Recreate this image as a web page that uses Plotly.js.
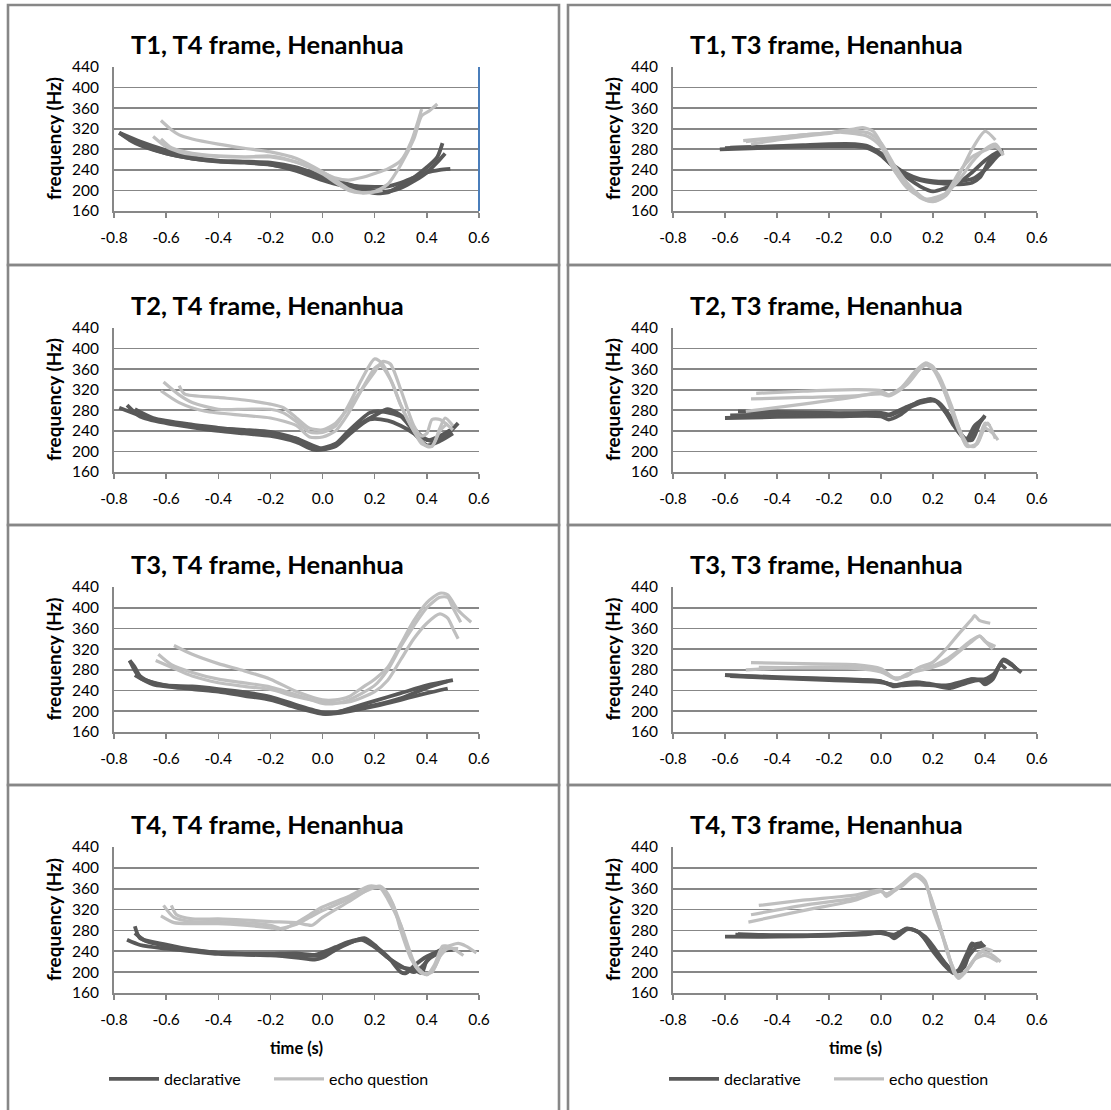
<!DOCTYPE html>
<html>
<head>
<meta charset="utf-8">
<script src="https://cdn.plot.ly/plotly-3.0.1.min.js"></script>
<style>
  html, body { margin: 0; padding: 0; background: #ffffff; }
  #chart { width: 1111px; height: 1110px; }
</style>
</head>
<body>
<div id="chart"></div>
<script>
// ---------- shared axis ticks / labels ----------
const X_TICK_VALUES = [-0.8, -0.6, -0.4, -0.2, 0.0, 0.2, 0.4, 0.6];
const X_TICK_TEXT = ['-0.8', '-0.6', '-0.4', '-0.2', '0.0', '0.2', '0.4', '0.6'];
const Y_TICK_VALUES = [160, 200, 240, 280, 320, 360, 400, 440];
const PANEL_TITLES = [
  'T1, T4 frame, Henanhua', 'T1, T3 frame, Henanhua',
  'T2, T4 frame, Henanhua', 'T2, T3 frame, Henanhua',
  'T3, T4 frame, Henanhua', 'T3, T3 frame, Henanhua',
  'T4, T4 frame, Henanhua', 'T4, T3 frame, Henanhua'
];
const SERIES_NAMES = ['declarative', 'echo question'];
const Y_TITLE = 'frequency (Hz)';
const X_TITLE = 'time (s)';

// ---------- Panel 1: T1, T4 frame ----------
const T1T4_DECL_A_TIME = [-0.78,-0.74,-0.7,-0.6,-0.5,-0.4,-0.3,-0.2,-0.1,0.0,0.1,0.2,0.25,0.3,0.35,0.4,0.44,0.47];
const T1T4_DECL_A_FREQ = [312,298,288,272,262,257,256,254,245,228,212,200,198,205,218,235,255,272];
const T1T4_DECL_B_TIME = [-0.78,-0.7,-0.6,-0.5,-0.4,-0.3,-0.2,-0.1,0.0,0.1,0.15,0.2,0.25,0.3,0.35,0.4,0.44,0.46];
const T1T4_DECL_B_FREQ = [312,295,278,265,258,255,250,238,220,206,200,195,196,210,225,245,265,292];
const T1T4_DECL_C_TIME = [-0.78,-0.7,-0.6,-0.5,-0.4,-0.3,-0.2,-0.1,0.0,0.1,0.2,0.25,0.3,0.35,0.4,0.45,0.49];
const T1T4_DECL_C_FREQ = [312,290,272,262,256,254,250,240,222,210,207,208,215,225,235,240,242];
const T1T4_ECHO_A_TIME = [-0.62,-0.58,-0.55,-0.5,-0.4,-0.3,-0.2,-0.1,0.0,0.05,0.1,0.15,0.2,0.25,0.3,0.35,0.38,0.41,0.44];
const T1T4_ECHO_A_FREQ = [336,318,308,300,290,282,275,262,236,220,203,196,198,212,250,300,345,355,368];
const T1T4_ECHO_B_TIME = [-0.65,-0.6,-0.55,-0.5,-0.4,-0.3,-0.2,-0.1,0.0,0.05,0.1,0.15,0.2,0.23];
const T1T4_ECHO_B_FREQ = [305,285,275,270,266,265,267,255,232,215,200,195,197,200];
const T1T4_ECHO_C_TIME = [-0.62,-0.58,-0.5,-0.4,-0.3,-0.2,-0.1,0.0,0.05,0.1,0.15,0.2,0.25,0.3,0.34,0.38];
const T1T4_ECHO_C_FREQ = [300,283,272,267,265,265,255,235,224,220,225,233,242,258,295,358];

// ---------- Panel 2: T1, T3 frame ----------
const T1T3_DECL_A_TIME = [-0.62,-0.5,-0.4,-0.3,-0.2,-0.1,-0.05,0.0,0.05,0.1,0.15,0.2,0.25,0.3,0.35,0.4,0.45,0.47];
const T1T3_DECL_A_FREQ = [280,282,284,286,287,288,285,272,248,232,222,218,217,218,222,240,268,275];
const T1T3_DECL_B_TIME = [-0.6,-0.5,-0.4,-0.3,-0.2,-0.1,-0.05,0.0,0.05,0.1,0.15,0.2,0.25,0.3,0.35,0.4,0.45,0.47];
const T1T3_DECL_B_FREQ = [282,284,286,288,290,290,286,270,245,225,208,198,205,215,235,258,275,278];
const T1T3_DECL_C_TIME = [-0.58,-0.5,-0.4,-0.3,-0.2,-0.1,-0.05,0.0,0.05,0.1,0.15,0.2,0.25,0.3,0.35,0.38,0.42,0.45];
const T1T3_DECL_C_FREQ = [283,284,285,285,286,286,282,268,245,228,220,215,213,212,215,225,260,272];
const T1T3_ECHO_A_TIME = [-0.53,-0.4,-0.3,-0.2,-0.1,-0.07,-0.03,0.0,0.05,0.1,0.15,0.2,0.25,0.3,0.35,0.4,0.44];
const T1T3_ECHO_A_FREQ = [297,303,308,312,320,322,315,292,240,210,186,178,190,230,280,315,298];
const T1T3_ECHO_B_TIME = [-0.5,-0.4,-0.3,-0.2,-0.15,-0.05,0.0,0.05,0.1,0.15,0.18,0.22,0.3,0.35,0.4,0.44,0.47];
const T1T3_ECHO_B_FREQ = [290,298,305,311,315,312,292,250,215,190,180,182,220,255,280,290,268];
const T1T3_ECHO_C_TIME = [-0.52,-0.4,-0.3,-0.2,-0.15,-0.05,0.0,0.05,0.1,0.15,0.18,0.25,0.3,0.35,0.4,0.44,0.47];
const T1T3_ECHO_C_FREQ = [295,302,308,312,313,305,285,240,205,188,183,195,235,265,278,285,270];

// ---------- Panel 3: T2, T4 frame ----------
const T2T4_DECL_A_TIME = [-0.78,-0.7,-0.6,-0.5,-0.4,-0.3,-0.2,-0.1,0.0,0.05,0.1,0.15,0.2,0.25,0.3,0.35,0.4,0.45,0.5];
const T2T4_DECL_A_FREQ = [285,270,257,250,245,242,238,225,205,212,235,255,270,282,270,245,222,230,245];
const T2T4_DECL_B_TIME = [-0.75,-0.7,-0.6,-0.5,-0.4,-0.3,-0.2,-0.1,-0.03,0.05,0.1,0.18,0.25,0.3,0.35,0.4,0.45,0.5];
const T2T4_DECL_B_FREQ = [290,268,255,247,240,235,230,218,203,210,232,262,260,250,235,212,220,235];
const T2T4_DECL_C_TIME = [-0.72,-0.65,-0.5,-0.4,-0.3,-0.2,-0.1,-0.03,0.05,0.1,0.18,0.22,0.3,0.35,0.42,0.48,0.52];
const T2T4_DECL_C_FREQ = [282,265,252,246,240,233,225,205,215,240,275,278,268,240,220,235,255];
const T2T4_ECHO_A_TIME = [-0.61,-0.55,-0.5,-0.4,-0.3,-0.2,-0.15,-0.1,-0.05,0.0,0.05,0.1,0.15,0.2,0.23,0.27,0.3,0.35,0.4,0.42,0.45,0.47,0.5];
const T2T4_ECHO_A_FREQ = [335,310,295,282,282,282,275,258,238,237,250,290,340,380,370,330,290,240,210,210,245,265,250];
const T2T4_ECHO_B_TIME = [-0.55,-0.53,-0.4,-0.3,-0.2,-0.15,-0.1,-0.05,0.0,0.05,0.1,0.15,0.2,0.23,0.26,0.3,0.35,0.38,0.4,0.42,0.45,0.5];
const T2T4_ECHO_B_FREQ = [328,312,305,300,292,285,265,245,242,255,285,320,355,375,370,320,250,230,235,262,262,242];
const T2T4_ECHO_C_TIME = [-0.62,-0.55,-0.45,-0.3,-0.2,-0.1,-0.05,0.0,0.05,0.1,0.15,0.2,0.22,0.26,0.3,0.35,0.38,0.42,0.45,0.48];
const T2T4_ECHO_C_FREQ = [318,295,278,270,265,250,228,228,240,275,320,362,368,340,290,240,215,210,240,255];

// ---------- Panel 4: T2, T3 frame ----------
const T2T3_DECL_A_TIME = [-0.6,-0.4,-0.2,0.0,0.03,0.07,0.12,0.18,0.21,0.25,0.3,0.33,0.36,0.38,0.4];
const T2T3_DECL_A_FREQ = [265,267,268,268,262,270,288,298,298,275,240,220,240,258,268];
const T2T3_DECL_B_TIME = [-0.58,-0.4,-0.2,0.0,0.03,0.1,0.15,0.19,0.22,0.27,0.3,0.33,0.36,0.39];
const T2T3_DECL_B_FREQ = [270,272,273,275,272,287,296,302,296,265,238,225,250,262];
const T2T3_DECL_C_TIME = [-0.55,-0.4,-0.2,0.0,0.03,0.1,0.15,0.2,0.23,0.28,0.32,0.35,0.38,0.4];
const T2T3_DECL_C_FREQ = [278,277,275,273,270,285,298,300,290,250,225,222,255,270];
const T2T3_ECHO_A_TIME = [-0.48,-0.3,-0.1,0.0,0.03,0.08,0.13,0.17,0.2,0.23,0.27,0.3,0.33,0.36,0.38,0.4,0.42];
const T2T3_ECHO_A_FREQ = [313,317,320,318,310,325,355,372,365,335,280,240,212,210,230,255,250];
const T2T3_ECHO_B_TIME = [-0.5,-0.3,-0.1,0.0,0.03,0.08,0.13,0.17,0.2,0.25,0.3,0.33,0.37,0.4,0.43,0.45];
const T2T3_ECHO_B_FREQ = [302,305,308,312,308,322,350,368,360,310,245,210,215,245,235,222];
const T2T3_ECHO_C_TIME = [-0.52,-0.3,-0.1,0.0,0.03,0.1,0.15,0.18,0.22,0.27,0.3,0.34,0.37,0.39,0.41,0.44];
const T2T3_ECHO_C_FREQ = [278,292,306,315,310,330,360,370,350,290,245,210,215,240,255,225];

// ---------- Panel 5: T3, T4 frame ----------
const T3T4_DECL_A_TIME = [-0.74,-0.72,-0.7,-0.65,-0.6,-0.5,-0.4,-0.3,-0.2,-0.1,0.0,0.05,0.1,0.2,0.3,0.4,0.48];
const T3T4_DECL_A_FREQ = [298,285,268,255,250,248,243,237,228,212,198,198,203,212,225,245,258];
const T3T4_DECL_B_TIME = [-0.74,-0.7,-0.6,-0.5,-0.4,-0.3,-0.2,-0.1,0.0,0.05,0.1,0.2,0.3,0.4,0.5];
const T3T4_DECL_B_FREQ = [298,265,250,245,240,233,225,210,196,197,205,220,235,250,260];
const T3T4_DECL_C_TIME = [-0.72,-0.65,-0.5,-0.4,-0.3,-0.2,-0.1,0.0,0.05,0.1,0.2,0.3,0.4,0.48];
const T3T4_DECL_C_FREQ = [270,252,243,238,230,222,207,195,196,200,210,222,235,244];
const T3T4_ECHO_A_TIME = [-0.57,-0.5,-0.4,-0.3,-0.2,-0.1,0.0,0.05,0.1,0.15,0.2,0.25,0.3,0.35,0.4,0.45,0.48,0.52,0.57];
const T3T4_ECHO_A_FREQ = [327,310,292,278,262,238,222,222,228,245,262,285,330,375,410,428,425,395,372];
const T3T4_ECHO_B_TIME = [-0.63,-0.58,-0.5,-0.4,-0.3,-0.2,-0.1,0.0,0.05,0.1,0.2,0.25,0.3,0.35,0.4,0.45,0.48,0.5,0.53];
const T3T4_ECHO_B_FREQ = [310,290,275,262,255,247,232,215,215,222,250,280,325,365,400,420,420,400,372];
const T3T4_ECHO_C_TIME = [-0.64,-0.58,-0.5,-0.4,-0.3,-0.2,-0.1,0.0,0.1,0.2,0.25,0.3,0.35,0.4,0.45,0.48,0.5,0.52];
const T3T4_ECHO_C_FREQ = [298,285,268,255,248,242,228,218,218,238,260,300,340,370,388,380,360,340];

// ---------- Panel 6: T3, T3 frame ----------
const T3T3_DECL_A_TIME = [-0.6,-0.4,-0.2,-0.05,0.0,0.05,0.1,0.15,0.2,0.25,0.3,0.35,0.4,0.43,0.47,0.5,0.54];
const T3T3_DECL_A_FREQ = [270,266,263,260,258,250,255,256,252,248,252,262,258,268,298,290,275];
const T3T3_DECL_B_TIME = [-0.6,-0.4,-0.2,0.0,0.05,0.1,0.2,0.27,0.33,0.38,0.4,0.43,0.46,0.48];
const T3T3_DECL_B_FREQ = [270,265,262,258,248,253,250,245,255,260,252,262,290,282];
const T3T3_DECL_C_TIME = [-0.58,-0.4,-0.2,0.0,0.06,0.15,0.25,0.35,0.4,0.44,0.47,0.5,0.52];
const T3T3_DECL_C_FREQ = [268,264,260,256,250,252,250,262,262,275,300,292,282];
const T3T3_ECHO_A_TIME = [-0.5,-0.3,-0.1,0.0,0.05,0.1,0.15,0.2,0.25,0.3,0.35,0.36,0.38,0.42];
const T3T3_ECHO_A_FREQ = [294,292,290,282,265,268,285,295,320,350,378,385,375,370];
const T3T3_ECHO_B_TIME = [-0.52,-0.3,-0.1,0.0,0.06,0.1,0.15,0.2,0.25,0.3,0.35,0.38,0.4,0.44];
const T3T3_ECHO_B_FREQ = [280,285,285,278,262,270,285,288,300,318,338,345,335,325];
const T3T3_ECHO_C_TIME = [-0.47,-0.3,-0.1,0.0,0.06,0.1,0.2,0.25,0.3,0.35,0.38,0.41,0.43];
const T3T3_ECHO_C_FREQ = [285,284,283,276,262,272,285,295,315,335,345,330,320];

// ---------- Panel 7: T4, T4 frame ----------
const T4T4_DECL_A_TIME = [-0.72,-0.7,-0.6,-0.5,-0.4,-0.3,-0.2,-0.1,-0.03,0.0,0.05,0.1,0.15,0.2,0.25,0.3,0.32,0.35,0.4,0.45,0.5];
const T4T4_DECL_A_FREQ = [288,265,253,243,237,235,235,236,233,238,248,258,263,250,230,200,198,212,230,240,243];
const T4T4_DECL_B_TIME = [-0.75,-0.7,-0.6,-0.5,-0.4,-0.2,-0.1,-0.03,0.0,0.05,0.1,0.16,0.2,0.25,0.3,0.35,0.38,0.42,0.45,0.48];
const T4T4_DECL_B_FREQ = [262,252,245,240,235,232,228,224,228,243,255,265,252,228,212,200,210,232,242,245];
const T4T4_DECL_C_TIME = [-0.72,-0.68,-0.6,-0.5,-0.4,-0.2,-0.1,0.0,0.05,0.1,0.15,0.2,0.25,0.3,0.35,0.38,0.4,0.45];
const T4T4_DECL_C_FREQ = [275,260,250,242,237,233,232,232,245,256,262,248,228,210,205,198,222,238];
const T4T4_ECHO_A_TIME = [-0.61,-0.57,-0.5,-0.4,-0.3,-0.2,-0.15,-0.1,-0.05,0.0,0.1,0.18,0.22,0.25,0.3,0.35,0.38,0.4,0.43,0.47,0.5,0.54];
const T4T4_ECHO_A_FREQ = [328,305,297,297,295,290,283,295,310,325,345,365,362,340,290,220,200,195,210,248,245,232];
const T4T4_ECHO_B_TIME = [-0.58,-0.56,-0.5,-0.4,-0.3,-0.2,-0.1,-0.04,0.0,0.1,0.18,0.22,0.25,0.3,0.33,0.36,0.4,0.43,0.46,0.48,0.52,0.55,0.59];
const T4T4_ECHO_B_FREQ = [328,310,302,302,300,297,295,290,305,335,360,365,350,290,240,210,195,215,250,250,255,250,237];
const T4T4_ECHO_C_TIME = [-0.62,-0.57,-0.5,-0.4,-0.3,-0.2,-0.17,-0.1,-0.05,0.0,0.1,0.2,0.23,0.27,0.3,0.34,0.38,0.42,0.45,0.48,0.52];
const T4T4_ECHO_C_FREQ = [308,295,293,293,290,285,283,292,305,318,340,362,360,330,280,225,198,200,230,245,245];

// ---------- Panel 8: T4, T3 frame ----------
const T4T3_DECL_A_TIME = [-0.6,-0.4,-0.2,-0.05,0.0,0.03,0.05,0.08,0.1,0.13,0.17,0.2,0.25,0.28,0.3,0.33,0.35,0.37,0.39];
const T4T3_DECL_A_FREQ = [268,268,270,273,277,272,265,275,282,280,268,250,215,200,205,235,255,248,250];
const T4T3_DECL_B_TIME = [-0.56,-0.4,-0.2,0.0,0.05,0.1,0.15,0.2,0.25,0.28,0.32,0.35,0.38,0.4];
const T4T3_DECL_B_FREQ = [272,270,270,275,270,284,275,240,210,198,210,250,255,248];
const T4T3_DECL_C_TIME = [-0.55,-0.4,-0.2,0.0,0.05,0.1,0.14,0.2,0.25,0.28,0.31,0.33,0.36,0.39];
const T4T3_DECL_C_FREQ = [273,271,272,276,272,283,278,245,215,200,205,225,245,258];
const T4T3_ECHO_A_TIME = [-0.47,-0.3,-0.1,0.0,0.02,0.05,0.1,0.14,0.17,0.2,0.25,0.28,0.3,0.33,0.37,0.4,0.43];
const T4T3_ECHO_A_FREQ = [328,338,348,357,345,355,375,387,375,320,250,200,188,205,230,245,240];
const T4T3_ECHO_B_TIME = [-0.5,-0.3,-0.1,0.0,0.02,0.08,0.13,0.17,0.22,0.26,0.3,0.34,0.38,0.42,0.46];
const T4T3_ECHO_B_FREQ = [310,328,342,355,350,365,385,370,300,230,190,210,238,235,220];
const T4T3_ECHO_C_TIME = [-0.51,-0.3,-0.1,0.0,0.02,0.08,0.13,0.16,0.2,0.25,0.29,0.32,0.36,0.4,0.45];
const T4T3_ECHO_C_FREQ = [296,318,338,355,350,368,388,380,330,250,195,198,225,232,220];

// ---------- assemble panels ----------
const PANELS = [
  { decl: [[T1T4_DECL_A_TIME,T1T4_DECL_A_FREQ],[T1T4_DECL_B_TIME,T1T4_DECL_B_FREQ],[T1T4_DECL_C_TIME,T1T4_DECL_C_FREQ]],
    echo: [[T1T4_ECHO_A_TIME,T1T4_ECHO_A_FREQ],[T1T4_ECHO_B_TIME,T1T4_ECHO_B_FREQ],[T1T4_ECHO_C_TIME,T1T4_ECHO_C_FREQ]] },
  { decl: [[T1T3_DECL_A_TIME,T1T3_DECL_A_FREQ],[T1T3_DECL_B_TIME,T1T3_DECL_B_FREQ],[T1T3_DECL_C_TIME,T1T3_DECL_C_FREQ]],
    echo: [[T1T3_ECHO_A_TIME,T1T3_ECHO_A_FREQ],[T1T3_ECHO_B_TIME,T1T3_ECHO_B_FREQ],[T1T3_ECHO_C_TIME,T1T3_ECHO_C_FREQ]] },
  { decl: [[T2T4_DECL_A_TIME,T2T4_DECL_A_FREQ],[T2T4_DECL_B_TIME,T2T4_DECL_B_FREQ],[T2T4_DECL_C_TIME,T2T4_DECL_C_FREQ]],
    echo: [[T2T4_ECHO_A_TIME,T2T4_ECHO_A_FREQ],[T2T4_ECHO_B_TIME,T2T4_ECHO_B_FREQ],[T2T4_ECHO_C_TIME,T2T4_ECHO_C_FREQ]] },
  { decl: [[T2T3_DECL_A_TIME,T2T3_DECL_A_FREQ],[T2T3_DECL_B_TIME,T2T3_DECL_B_FREQ],[T2T3_DECL_C_TIME,T2T3_DECL_C_FREQ]],
    echo: [[T2T3_ECHO_A_TIME,T2T3_ECHO_A_FREQ],[T2T3_ECHO_B_TIME,T2T3_ECHO_B_FREQ],[T2T3_ECHO_C_TIME,T2T3_ECHO_C_FREQ]] },
  { decl: [[T3T4_DECL_A_TIME,T3T4_DECL_A_FREQ],[T3T4_DECL_B_TIME,T3T4_DECL_B_FREQ],[T3T4_DECL_C_TIME,T3T4_DECL_C_FREQ]],
    echo: [[T3T4_ECHO_A_TIME,T3T4_ECHO_A_FREQ],[T3T4_ECHO_B_TIME,T3T4_ECHO_B_FREQ],[T3T4_ECHO_C_TIME,T3T4_ECHO_C_FREQ]] },
  { decl: [[T3T3_DECL_A_TIME,T3T3_DECL_A_FREQ],[T3T3_DECL_B_TIME,T3T3_DECL_B_FREQ],[T3T3_DECL_C_TIME,T3T3_DECL_C_FREQ]],
    echo: [[T3T3_ECHO_A_TIME,T3T3_ECHO_A_FREQ],[T3T3_ECHO_B_TIME,T3T3_ECHO_B_FREQ],[T3T3_ECHO_C_TIME,T3T3_ECHO_C_FREQ]] },
  { decl: [[T4T4_DECL_A_TIME,T4T4_DECL_A_FREQ],[T4T4_DECL_B_TIME,T4T4_DECL_B_FREQ],[T4T4_DECL_C_TIME,T4T4_DECL_C_FREQ]],
    echo: [[T4T4_ECHO_A_TIME,T4T4_ECHO_A_FREQ],[T4T4_ECHO_B_TIME,T4T4_ECHO_B_FREQ],[T4T4_ECHO_C_TIME,T4T4_ECHO_C_FREQ]] },
  { decl: [[T4T3_DECL_A_TIME,T4T3_DECL_A_FREQ],[T4T3_DECL_B_TIME,T4T3_DECL_B_FREQ],[T4T3_DECL_C_TIME,T4T3_DECL_C_FREQ]],
    echo: [[T4T3_ECHO_A_TIME,T4T3_ECHO_A_FREQ],[T4T3_ECHO_B_TIME,T4T3_ECHO_B_FREQ],[T4T3_ECHO_C_TIME,T4T3_ECHO_C_FREQ]] }
];

// ---------- styling / geometry ----------
const W = 1111, H = 1110;
const FONT = 'Lato, "Open Sans", sans-serif';
const DARK = '#595959', LIGHT = '#bfbfbf';
const GRID = '#878787';
const BORDER = '#878787';
const COL_PLOT_X = [[114, 479], [673, 1037]];       // px
const ROW_PLOT_Y = [[67, 211], [328, 472], [587, 732], [847, 993]]; // px top,bottom
const COL_BOX_X = [[8, 559], [568, 1116]];
const ROW_BOX_Y = [[5, 265], [265, 525], [525, 785], [785, 1116]];
const px = v => v / W;
const py = v => 1 - v / H;

const data = [];
const layout = {
  width: W, height: H,
  margin: { l: 0, r: 0, t: 0, b: 0 },
  paper_bgcolor: '#ffffff', plot_bgcolor: '#ffffff',
  font: { family: FONT, size: 15, color: '#000000' },
  showlegend: true,
  annotations: [], shapes: []
};

PANELS.forEach((panel, i) => {
  const row = Math.floor(i / 2), col = i % 2;
  const n = i + 1;
  const xa = n === 1 ? 'x' : 'x' + n;
  const ya = n === 1 ? 'y' : 'y' + n;
  const [x0, x1] = COL_PLOT_X[col];
  const [yt, yb] = ROW_PLOT_Y[row];
  layout['xaxis' + (n === 1 ? '' : n)] = {
    domain: [px(x0), px(x1)], anchor: ya,
    range: [-0.8, 0.6], tickvals: X_TICK_VALUES, ticktext: X_TICK_TEXT,
    ticks: 'outside', ticklen: 5, tickwidth: 1.5, tickcolor: GRID,
    showline: true, linecolor: GRID, linewidth: 2,
    showgrid: false, zeroline: false, fixedrange: true,
    tickfont: { family: FONT, size: 15.5, color: '#000' }, ticklabelstandoff: 6
  };
  layout['yaxis' + (n === 1 ? '' : n)] = {
    domain: [py(yb), py(yt)], anchor: xa,
    range: [160, 440], tickvals: Y_TICK_VALUES,
    ticks: '', showline: true, linecolor: GRID, linewidth: 2,
    showgrid: true, gridcolor: GRID, gridwidth: 1.7, zeroline: false, fixedrange: true,
    tickfont: { family: FONT, size: 15.5, color: '#000' }, ticklabelstandoff: 10
  };
  const legendId = col === 0 ? 'legend' : 'legend2';
  panel.decl.forEach((c, k) => {
    data.push({
      type: 'scatter', mode: 'lines', x: c[0], y: c[1], xaxis: xa, yaxis: ya,
      name: SERIES_NAMES[0], legend: legendId,
      showlegend: row === 3 && k === 0,
      line: { color: DARK, width: 3.8, shape: 'spline', smoothing: 0.7 },
      hoverinfo: 'skip'
    });
  });
  panel.echo.forEach((c, k) => {
    data.push({
      type: 'scatter', mode: 'lines', x: c[0], y: c[1], xaxis: xa, yaxis: ya,
      name: SERIES_NAMES[1], legend: legendId,
      showlegend: row === 3 && k === 0,
      line: { color: LIGHT, width: 3.2, shape: 'spline', smoothing: 0.7 },
      hoverinfo: 'skip'
    });
  });
  // panel title
  layout.annotations.push({
    text: '<b>' + PANEL_TITLES[i] + '</b>', xref: 'paper', yref: 'paper',
    x: px(x0 + 153), y: py(yt - 23), xanchor: 'center', yanchor: 'middle',
    showarrow: false, font: { family: FONT, size: 25.5, color: '#000' }
  });
  // y axis title
  layout.annotations.push({
    text: '<b>' + Y_TITLE + '</b>', xref: 'paper', yref: 'paper',
    x: px(x0 - 61), y: py((yt + yb) / 2), xanchor: 'center', yanchor: 'middle',
    textangle: -90, showarrow: false, font: { family: FONT, size: 19, color: '#000' }
  });
  if (row === 3) {
    layout.annotations.push({
      text: '<b>' + X_TITLE + '</b>', xref: 'paper', yref: 'paper',
      x: px((x0 + x1) / 2), y: py(yb + 55), xanchor: 'center', yanchor: 'middle',
      showarrow: false, font: { family: FONT, size: 16.5, color: '#000' }
    });
  }
  // panel border
  layout.shapes.push({
    type: 'rect', xref: 'paper', yref: 'paper', layer: 'below',
    x0: px(COL_BOX_X[col][0]), x1: px(COL_BOX_X[col][1]),
    y0: py(ROW_BOX_Y[row][1]), y1: py(ROW_BOX_Y[row][0]),
    line: { color: BORDER, width: 2.6 }, fillcolor: 'rgba(0,0,0,0)'
  });
});

// blue right-hand edge line in the first panel
layout.shapes.push({
  type: 'line', xref: 'x domain', yref: 'y domain', x0: 1, x1: 1, y0: 0, y1: 1,
  line: { color: '#4a7ebb', width: 2 }
});

const legendBase = {
  orientation: 'h', xanchor: 'left', yanchor: 'middle', y: py(1079),
  font: { family: FONT, size: 16, color: '#000' },
  bgcolor: 'rgba(0,0,0,0)', borderwidth: 0,
  entrywidth: 100, entrywidthmode: 'pixels', itemwidth: 50
};
layout.legend = Object.assign({}, legendBase, { x: px(104) });
layout.legend2 = Object.assign({}, legendBase, { x: px(664) });

Plotly.newPlot('chart', data, layout, { staticPlot: true, displayModeBar: false });
</script>
</body>
</html>
